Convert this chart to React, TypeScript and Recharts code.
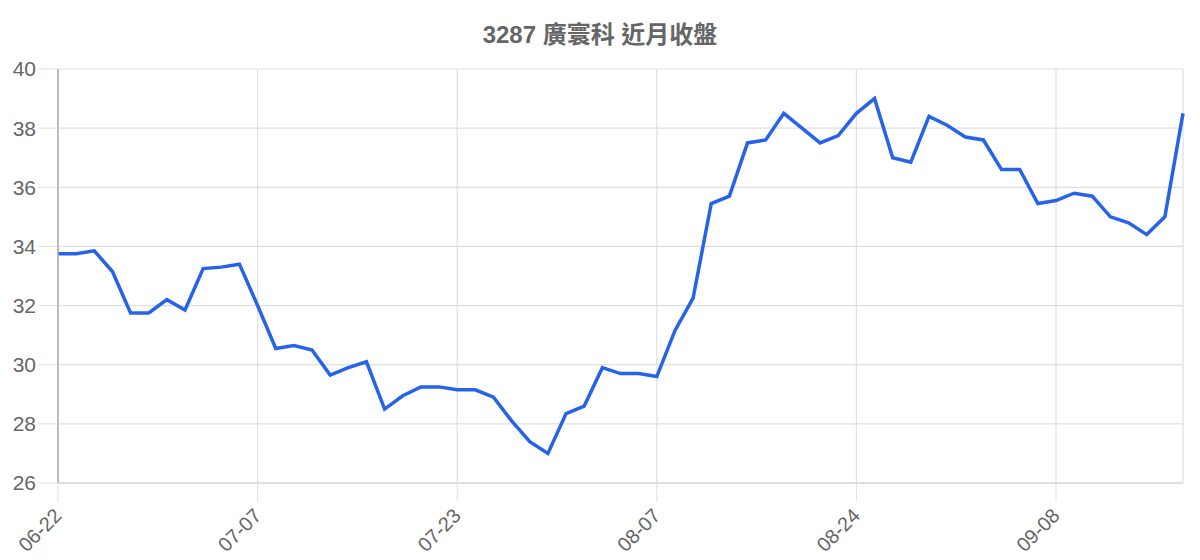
import { LineChart, Line, XAxis, YAxis, CartesianGrid } from 'recharts';

const dates = [
  '06-22', '06-23', '06-24', '06-25', '06-26', '06-29', '06-30', '07-01', '07-02', '07-03',
  '07-06', '07-07', '07-08', '07-09', '07-10', '07-13', '07-14', '07-15', '07-16', '07-20',
  '07-21', '07-22', '07-23', '07-24', '07-27', '07-28', '07-29', '07-30', '07-31', '08-03',
  '08-04', '08-05', '08-06', '08-07', '08-10', '08-11', '08-12', '08-13', '08-14', '08-17',
  '08-18', '08-19', '08-20', '08-21', '08-24', '08-25', '08-26', '08-27', '08-28', '08-31',
  '09-01', '09-02', '09-03', '09-04', '09-07', '09-08', '09-09', '09-10', '09-11', '09-14',
  '09-15', '09-16', '09-17',
];

const closes = [
  33.75, 33.75, 33.85, 33.15, 31.75, 31.75, 32.2, 31.85, 33.25, 33.3,
  33.4, 32.0, 30.55, 30.65, 30.5, 29.65, 29.9, 30.1, 28.5, 28.95,
  29.25, 29.25, 29.15, 29.15, 28.9, 28.1, 27.4, 27.0, 28.35, 28.6,
  29.9, 29.7, 29.7, 29.6, 31.15, 32.25, 35.45, 35.7, 37.5, 37.6,
  38.5, 38.0, 37.5, 37.75, 38.5, 39.0, 37.0, 36.85, 38.4, 38.1,
  37.7, 37.6, 36.6, 36.6, 35.45, 35.55, 35.8, 35.7, 35.0, 34.8,
  34.4, 35.0, 38.5,
];

const xTicks = ['06-22', '07-07', '07-23', '08-07', '08-24', '09-08'];
const yTicks = [26, 28, 30, 32, 34, 36, 38, 40];

const data = dates.map((d, i) => ({ date: d, close: closes[i] }));

const FONT = '"Liberation Sans", Arial, sans-serif';

const RotatedTick = (props: any) => {
  const { x, y, payload } = props;
  return (
    <g transform={`translate(${x - 5},${y + 3})`}>
      <text
        textAnchor="end"
        transform="rotate(-45)"
        fill="#666"
        fontSize={20}
        fontFamily={FONT}
        dy={14}
      >
        {payload.value}
      </text>
    </g>
  );
};

export default function App() {
  return (
    <div style={{ position: 'absolute', left: 0, top: 0, width: 1200, height: 560, background: '#fff' }}>
      <div
        style={{
          position: 'absolute',
          top: 20,
          left: 0,
          width: 1200,
          textAlign: 'center',
          fontFamily: '"Liberation Sans", "Noto Sans CJK TC", sans-serif',
          fontWeight: 'bold',
          fontSize: 24,
          color: '#666',
          lineHeight: '30px',
        }}
      >
        3287 廣寰科 近月收盤
      </div>
      <LineChart width={1200} height={560} data={data} margin={{ top: 69, right: 17, bottom: 0, left: 0 }}>
        <CartesianGrid stroke="#e0e0e0" strokeWidth={1.2} />
        <XAxis
          dataKey="date"
          ticks={xTicks}
          interval={0}
          height={77}
          tickSize={19}
          tickLine={{ stroke: '#e0e0e0' }}
          axisLine={{ stroke: '#cfcfcf' }}
          tick={<RotatedTick />}
          padding={{ left: 0, right: 0 }}
        />
        <YAxis
          domain={[26, 40]}
          ticks={yTicks}
          width={58}
          tickSize={20}
          tickMargin={2}
          tickLine={{ stroke: '#e0e0e0' }}
          axisLine={{ stroke: '#aaa', strokeWidth: 1.5 }}
          tick={{ fill: '#666', fontSize: 21, fontFamily: FONT }}
          interval={0}
        />
        <Line
          type="linear"
          dataKey="close"
          stroke="#2563eb"
          strokeWidth={3.5}
          dot={false}
          isAnimationActive={false}
        />
      </LineChart>
    </div>
  );
}
